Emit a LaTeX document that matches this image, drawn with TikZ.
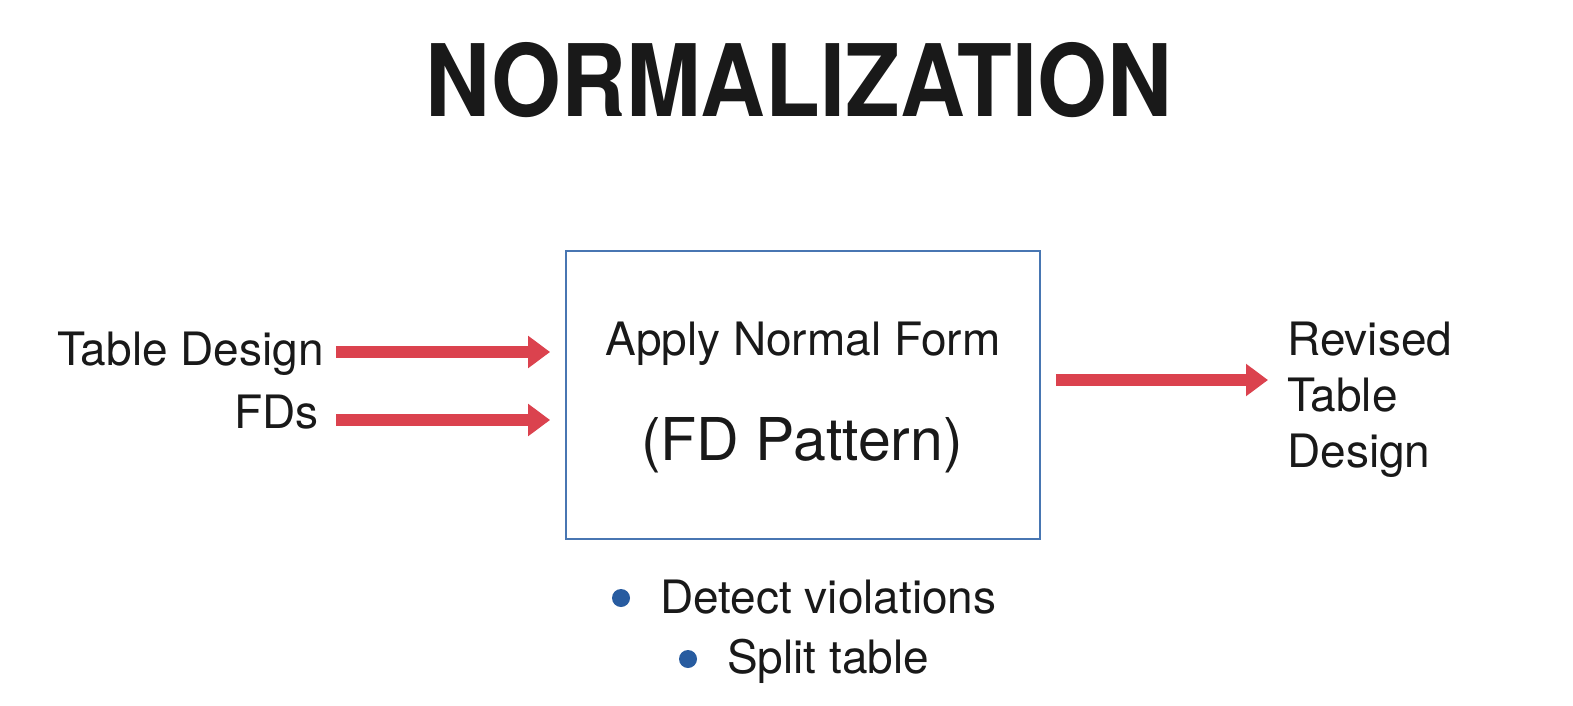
\documentclass[tikz,border=0pt]{standalone}
\usepackage{fontspec}
\setmainfont{TeX Gyre Heros}
\newfontfamily\titlefont[FakeStretch=0.897]{TeX Gyre Heros}
\usepackage{tikz}
\usetikzlibrary{arrows.meta, calc}
\definecolor{flowred}{RGB}{219,66,78}
\definecolor{boxblue}{RGB}{72,118,178}
\definecolor{dotblue}{RGB}{40,92,160}
\definecolor{ink}{RGB}{25,25,25}

\begin{document}
\begin{tikzpicture}[x=1pt, y=-1pt,
  txt/.style={inner sep=0, text=ink, font=\fontsize{46}{56}\selectfont},
  flow/.style={draw=flowred, line width=12pt, -{Triangle[length=22pt, width=31pt]}},
  dot/.style={circle, fill=dotblue, minimum size=18pt, inner sep=0}]
\useasboundingbox (0,0) rectangle (1573,706);
\pgfmathsetmacro{\gap}{15}
\node[inner sep=0, text=ink, font=\titlefont\fontsize{100}{100}\selectfont\bfseries, anchor=base] (title) at (799,117) {NORMALIZATION};

% Box in the middle
\node[draw=boxblue, line width=1.8pt, minimum width=474pt, minimum height=288pt, inner sep=0] (box) at (803,395) {};
\node[txt, anchor=base] (apply) at (803,355) {Apply Normal Form};
\node[txt, anchor=base, font=\fontsize{59}{60}\selectfont] (pattern) at (802,460) {(FD Pattern)};

% Inputs and output
\node[txt, anchor=base east] (design) at (324,365) {Table Design};
\node[txt, anchor=base east] (fds) at (319,428) {FDs};
\coordinate (in1) at (336,352);
\coordinate (in2) at (336,420);
\draw[flow, shorten >=\gap pt] (in1) -- (in1 -| box.west);
\draw[flow, shorten >=\gap pt] (in2) -- (in2 -| box.west);
\node[txt, anchor=base west, align=left] (revised) at (1287,467) {Revised\\Table\\Design};
\coordinate (out) at (1268,380);
\draw[flow, shorten <=\gap pt] (out -| box.east) -- (out);

% Bullets below the box
\node[dot] (d1) at (621,598) {};
\node[txt, anchor=base west] (detect) at (660,613) {Detect violations};
\node[dot] (d2) at (688,659) {};
\node[txt, anchor=base west] (split) at (727,673) {Split table};
\end{tikzpicture}
\end{document}
